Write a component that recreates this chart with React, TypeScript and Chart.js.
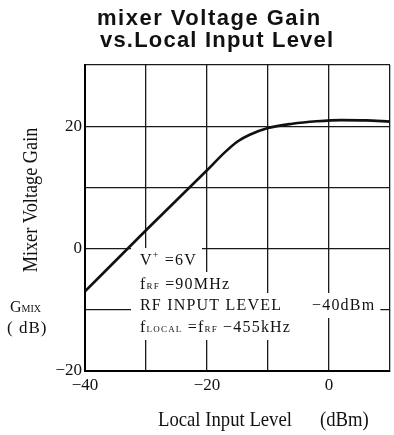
import { useEffect, useRef } from 'react';
import { Chart, registerables } from 'chart.js';

Chart.register(...registerables);

const localInputLevel = [-40, -30, -20, -17, -15, -13, -10, -6, -2, 2, 6, 10];
const mixerGain = [-7, 3, 12.8, 15.8, 17.5, 18.6, 19.7, 20.4, 20.8, 21.0, 20.95, 20.75];

const xTickValues = [-40, -20, 0];
const xTickLabels = ['−40', '−20', '0'];
const yTickValues = [-20, 0, 20];
const yTickLabels = ['−20', '0', '20'];

const titleLines = ['mixer Voltage Gain', 'vs.Local Input Level'];
const yAxisTitle = 'Mixer Voltage Gain';
const xAxisTitle = 'Local Input Level';
const xAxisUnit = '(dBm)';

const SERIF = '"Liberation Serif", "Times New Roman", serif';
const INK = '#111';

type Run = { text: string; size: number; dy?: number };

function measureRuns(ctx: CanvasRenderingContext2D, runs: Run[]) {
  let w = 0;
  for (const r of runs) {
    ctx.font = `${r.size}px ${SERIF}`;
    w += ctx.measureText(r.text).width;
  }
  return w;
}

function drawRuns(ctx: CanvasRenderingContext2D, x: number, y: number, runs: Run[]) {
  for (const r of runs) {
    ctx.font = `${r.size}px ${SERIF}`;
    ctx.fillText(r.text, x, y + (r.dy || 0));
    x += ctx.measureText(r.text).width;
  }
  return x;
}

const decorPlugin = {
  id: 'decor',
  beforeDatasetsDraw(chart: any) {
    const ctx: CanvasRenderingContext2D = chart.ctx;
    const a = chart.chartArea;
    ctx.save();
    ctx.fillStyle = INK;
    ctx.textAlign = 'left';
    ctx.textBaseline = 'alphabetic';
    (ctx as any).letterSpacing = '1.2px';
    const left = a.left + 55;
    const lines: { runs: Run[]; base: number; extra?: { text: string; x: number } }[] = [
      { runs: [{ text: 'V', size: 16 }, { text: '+', size: 10, dy: -7 }, { text: ' =6V', size: 16 }], base: a.top + 200 },
      { runs: [{ text: 'f', size: 16 }, { text: 'RF', size: 9 }, { text: ' =90MHz', size: 16 }], base: a.top + 224 },
      { runs: [{ text: 'RF INPUT LEVEL', size: 16 }], base: a.top + 245, extra: { text: '−40dBm', x: a.left + 227 } },
      { runs: [{ text: 'f', size: 16 }, { text: 'LOCAL', size: 9 }, { text: ' =f', size: 16 }, { text: 'RF', size: 9 }, { text: ' −455kHz', size: 16 }], base: a.top + 267 },
    ];
    // white backing boxes
    ctx.fillStyle = '#fff';
    for (const ln of lines) {
      let end = left + measureRuns(ctx, ln.runs);
      if (ln.extra) {
        ctx.font = `16px ${SERIF}`;
        end = ln.extra.x + ctx.measureText(ln.extra.text).width;
      }
      ctx.fillRect(a.left + 46, ln.base - 17, end + 5 - (a.left + 46), 25);
    }
    ctx.fillStyle = INK;
    for (const ln of lines) {
      drawRuns(ctx, left, ln.base, ln.runs);
      if (ln.extra) {
        ctx.font = `16px ${SERIF}`;
        ctx.fillText(ln.extra.text, ln.extra.x, ln.base);
      }
    }
    ctx.restore();
  },
  afterDraw(chart: any) {
    const ctx: CanvasRenderingContext2D = chart.ctx;
    ctx.save();
    ctx.fillStyle = INK;
    ctx.textAlign = 'left';
    ctx.textBaseline = 'alphabetic';
    // title
    ctx.font = 'bold 22px "Liberation Sans", Arial, sans-serif';
    (ctx as any).letterSpacing = '1.5px';
    ctx.fillText(titleLines[0], 97, 25);
    (ctx as any).letterSpacing = '1.2px';
    ctx.fillText(titleLines[1], 100, 47);
    (ctx as any).letterSpacing = '0px';

    // y axis title (rotated, condensed serif)
    ctx.save();
    ctx.translate(37, 200);
    ctx.rotate(-Math.PI / 2);
    ctx.scale(0.83, 1);
    ctx.textAlign = 'center';
    ctx.font = `22px ${SERIF}`;
    ctx.fillText(yAxisTitle, 0, 0);
    ctx.restore();

    // G_MIX (dB)
    drawRuns(ctx, 10, 312, [{ text: 'G', size: 16 }, { text: 'MIX', size: 10 }]);
    ctx.font = `17px ${SERIF}`;
    (ctx as any).letterSpacing = '1px';
    ctx.fillText('( dB)', 7, 333);
    (ctx as any).letterSpacing = '0px';

    // x axis title
    ctx.save();
    ctx.font = `22px ${SERIF}`;
    ctx.translate(158, 426);
    ctx.scale(0.85, 1);
    ctx.fillText(xAxisTitle, 0, 0);
    ctx.restore();
    ctx.save();
    ctx.font = `22px ${SERIF}`;
    ctx.translate(320, 426);
    ctx.scale(0.85, 1);
    ctx.fillText(xAxisUnit, 0, 0);
    ctx.restore();

    ctx.restore();
  },
};

export default function App() {
  const ref = useRef<HTMLCanvasElement | null>(null);
  useEffect(() => {
    if (!ref.current) return;
    const chart = new Chart(ref.current, {
      type: 'line',
      data: {
        datasets: [
          {
            data: localInputLevel.map((x, i) => ({ x, y: mixerGain[i] })),
            borderColor: '#111',
            borderWidth: 2.6,
            pointRadius: 0,
            fill: false,
            cubicInterpolationMode: 'monotone',
          },
        ],
      },
      options: {
        animation: false,
        responsive: false,
        devicePixelRatio: 1,
        layout: { padding: { top: 65, right: 4, left: 0, bottom: 0 } },
        plugins: { legend: { display: false }, tooltip: { enabled: false }, title: { display: false } },
        scales: {
          x: {
            type: 'linear',
            min: -40,
            max: 10,
            afterFit: (s: any) => { s.height = 64; },
            ticks: {
              stepSize: 10,
              autoSkip: false,
              maxRotation: 0,
              padding: 4,
              color: INK,
              font: { family: SERIF, size: 17 },
              callback: (v: any) => { const i = xTickValues.indexOf(Number(v)); return i >= 0 ? xTickLabels[i] : ''; },
            },
            grid: { color: '#1a1a1a', lineWidth: 1.3, drawTicks: false },
            border: { display: true, color: '#000', width: 2 },
          },
          y: {
            type: 'linear',
            min: -20,
            max: 30,
            afterFit: (s: any) => { s.width = 85; },
            ticks: {
              stepSize: 10,
              autoSkip: false,
              padding: 3,
              color: INK,
              font: { family: SERIF, size: 17 },
              callback: (v: any) => { const i = yTickValues.indexOf(Number(v)); return i >= 0 ? yTickLabels[i] : ''; },
            },
            grid: { color: '#1a1a1a', lineWidth: 1.3, drawTicks: false },
            border: { display: true, color: '#000', width: 2 },
          },
        },
      },
      plugins: [decorPlugin],
    });
    return () => chart.destroy();
  }, []);
  return (
    <div style={{ position: 'fixed', left: 0, top: 0, width: 394, height: 435, background: '#fff' }}>
      <canvas ref={ref} width={394} height={435} style={{ display: 'block' }} />
    </div>
  );
}
